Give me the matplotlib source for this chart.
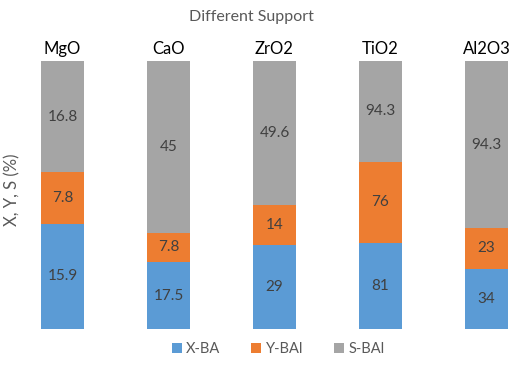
import numpy as np
import matplotlib
matplotlib.use('Agg')
import matplotlib.pyplot as plt

plt.rcParams['font.family'] = ['Lato', 'DejaVu Sans']

soportes = ['MgO', 'CaO', 'ZrO2', 'TiO2', 'Al2O3']
x_ba = [15.9, 17.5, 29, 81, 34]
y_bal = [7.8, 7.8, 14, 76, 23]
s_bal = [16.8, 45, 49.6, 94.3, 94.3]

series = ['X-BA', 'Y-BAl', 'S-BAl']
colores = ['#5B9BD5', '#ED7D31', '#A5A5A5']

datos = np.array([x_ba, y_bal, s_bal], dtype=float)
pct = datos / datos.sum(axis=0) * 100  # 100% apilado

fig = plt.figure(figsize=(5.15, 3.72), dpi=100)
ax = fig.add_axes([0.0, 0.1156, 1.0, 0.7204])

pos = np.arange(len(soportes))
base = np.zeros(len(soportes))
for i in range(3):
    barras = ax.bar(pos, pct[i], 0.4, bottom=base, color=colores[i], label=series[i])
    for j, b in enumerate(barras):
        ax.text(b.get_x() + b.get_width() / 2, base[j] + pct[i][j] / 2,
                f"{datos[i][j]:g}", ha='center', va='center', fontsize=11, color='#404040')
    base += pct[i]

for j, nombre in enumerate(soportes):
    ax.text(pos[j], 101.5, nombre, ha='center', va='bottom', fontsize=12, color='black')

ax.set_xlim(-62.5 / 106, (515 - 62.5) / 106)
ax.set_ylim(0, 100)
ax.axis('off')

fig.text(0.488, 0.955, 'Different Support', ha='center', va='center', fontsize=11.5, color='#595959')
fig.text(0.025, 0.489, 'X, Y, S (%)', ha='center', va='center', rotation=90, fontsize=12, color='#595959')

fig.legend(loc='center', bbox_to_anchor=(0.54, 0.062), ncol=3, frameon=False,
           fontsize=10.5, labelcolor='#595959', handlelength=0.7, handleheight=0.7,
           handletextpad=0.3, columnspacing=2.1)

plt.savefig('out.png', dpi=100)
plt.close()
